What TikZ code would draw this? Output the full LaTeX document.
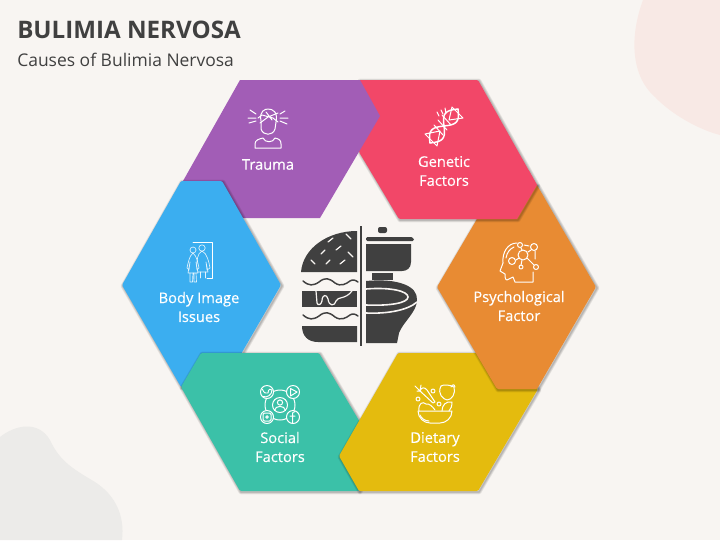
\documentclass[tikz,border=0pt]{standalone}
\usepackage{fontspec}
\setmainfont{Open Sans}
\newfontfamily\labfont[FakeBold=0.35]{Open Sans}
\definecolor{bgc}{HTML}{F8F5F2}
\definecolor{blobA}{HTML}{F8E9E5}
\definecolor{blobB}{HTML}{ECEBE9}
\definecolor{purp}{HTML}{A25DB6}
\definecolor{pinkc}{HTML}{F24768}
\definecolor{orng}{HTML}{E88B33}
\definecolor{yelw}{HTML}{E4BB0E}
\definecolor{teal2}{HTML}{3BC1A8}
\definecolor{blu}{HTML}{3BAEF0}
\definecolor{dark}{HTML}{404040}
\newcommand{\shad}[1]{%
  \foreach \wd in {3.6,2.6,1.6,.8}{\draw[black,opacity=.07,line width=\wd pt,line join=round,shift={(1,1)}] #1 -- cycle;}}
\newcommand{\hexa}[2]{\shad{#2}\fill[#1,rounded corners=1pt] #2 -- cycle;}
\tikzset{
  lab/.style={text=white,font=\fontsize{11pt}{14.2pt}\labfont,align=center,inner sep=0pt},
  ico/.style={draw=white,line width=.75pt,line cap=round,line join=round},
  thin ico/.style={draw=white,opacity=.85,line width=.5pt,line cap=round,line join=round},
  cut/.style={draw=bgc,line width=.9pt,line cap=round,line join=round}
}
\begin{document}
\begin{tikzpicture}[x=.75pt,y=-.75pt]
\useasboundingbox (0,0) rectangle (720,540);
\fill[bgc] (0,0) rectangle (720,540);
% blobs
\fill[blobA] (643,0) .. controls (630,35) and (630,75) .. (655,97) .. controls (672,115) and (700,130) .. (720,135) -- (720,0) -- cycle;
\fill[blobB] (0,437) .. controls (15,425) and (38,420) .. (50,440) .. controls (60,462) and (75,470) .. (95,482) .. controls (115,495) and (125,515) .. (122,540) -- (0,540) -- cycle;
% titles
\node[anchor=west,inner sep=0pt,text=dark,font=\fontsize{18.1pt}{20pt}\selectfont\bfseries] (title) at (17,29.5) {BULIMIA NERVOSA};
\node[anchor=west,inner sep=0pt,text=dark,font=\fontsize{13.1pt}{16pt}\selectfont] (sub) at (17,59.5) {Causes of Bulimia Nervosa};
% segments
\hexa{pinkc}{(359,80) -- (478,80) -- (537,185) -- (517,219) -- (399,219) -- (359,152)}
\fill[purp] (240,80) -- (360,80) -- (380,116) -- (320,218) -- (200,218) -- (183,181) -- cycle;
\hexa{blu}{(181,181) -- (222,181) -- (281,285) -- (222,387) -- (181,387) -- (122,285)}
\hexa{teal2}{(201,353) -- (319,353) -- (380,456) -- (359,491) -- (240,491) -- (181,387)}
\hexa{yelw}{(398,353) -- (517,353) -- (538,389) -- (478,491) -- (359,491) -- (339,456)}
\hexa{orng}{(497,185) -- (537,185) -- (596,287) -- (537,389) -- (497,389) -- (437,287)}
\begin{scope}
\clip (497,185) -- (537,185) -- (596,287) -- (537,389) -- (497,389) -- (437,287) -- cycle;
\shad{(359,80) -- (478,80) -- (537,185) -- (517,219) -- (399,219) -- (359,152)}
\end{scope}
\begin{scope}
\clip (440,170) rectangle (600,240);
\fill[pinkc] (359,80) -- (478,80) -- (537,185) -- (517,219) -- (399,219) -- (359,152) -- cycle;
\end{scope}
% centre: burger
\fill[dark] (301,272) .. controls (303,248) and (328,231) .. (357,231) -- (357,272) -- cycle;
\foreach \a/\b/\c/\d in {311/260/315/264,326/264/330/260,340/264/345/260,348/252/353/257,321/254/325/250,336/250/341/246,328/242/333/238,346/234/351/239}
  {\draw[cut] (\a,\b) -- (\c,\d);}
\draw[dark,line width=1.1pt,line cap=round] (303,281) .. controls (309,286) and (313,286) .. (319,282) .. controls (325,277) and (329,278) .. (335,283) .. controls (341,287) and (346,284) .. (350,281) .. controls (353,279) and (355,280) .. (358,282);
\fill[dark] (302,291) rectangle (357,307);
\draw[cut] (316,291) -- (317,303) .. controls (318,306) and (321,305) .. (322,301) .. controls (322,294) and (327,294) .. (328,299) .. controls (329,307) and (335,306) .. (336,301) .. controls (338,296) and (345,300) .. (352,291);
\draw[dark,line width=1.1pt,line cap=round] (303,315) .. controls (309,320) and (313,320) .. (319,316) .. controls (325,311) and (329,312) .. (335,317) .. controls (341,321) and (346,318) .. (350,315) .. controls (353,313) and (355,314) .. (358,316);
\fill[dark] (302,326) -- (357,326) -- (357,342) -- (318,342) .. controls (308,342) and (302,336) .. (302,326) -- cycle;
\fill[dark] (359.9,226) rectangle (361.6,346);
% centre: toilet
\fill[dark,rounded corners=1.5pt] (378,233) -- (378,227) -- (387,227) -- (387,233) -- cycle;
\fill[dark,rounded corners=1pt] (366,241) -- (366,237) -- (410,237) .. controls (412,237) and (414,239) .. (414,241) -- cycle;
\fill[dark] (366,244) -- (411,244) -- (411,262) .. controls (411,268) and (407,271) .. (402,271) -- (366,271) -- cycle;
\fill[dark] (372,272.5) rectangle (393,280);
\fill[dark] (366,281) .. controls (398,278) and (418,286) .. (417,300) .. controls (417,312) and (403,322) .. (399,333) -- (397,343) -- (366,343) -- cycle;
\draw[cut,line width=1.2pt] (366,289) .. controls (390,287) and (408,291) .. (408,297) .. controls (408,303) and (390,306) .. (366,305);
\draw[cut,line width=1.2pt] (366,313) .. controls (388,314) and (408,310) .. (417,302);
% trauma icon
\draw[ico] (261,121) .. controls (259,111) and (265,109) .. (268,109) .. controls (273,109) and (278,112) .. (276,122) -- (275,129) .. controls (273,136) and (263,136) .. (261,129) -- cycle;
\draw[ico] (258,118) -- (262,115) -- (273,118) -- (278,122) (260,123) -- (268,117) -- (278,113) (266,112) -- (272,120);
\draw[ico] (255,148) -- (255,144) .. controls (255,140) and (259,139) .. (263,138) .. controls (265,143) and (273,143) .. (275,138) .. controls (279,139) and (281,140) .. (281,144) -- (281,148) -- cycle;
\draw[ico] (250,110) -- (256,114) (248,118) -- (256,118) (249,123) -- (256,121) (285,111) -- (280,114) (288,118) -- (280,118) (287,124) -- (280,121);
% dna icon
\draw[ico,line width=1.1pt] plot[smooth,domain=-1:1,samples=25] ({444+14*\x+7*.8*sin(180*\x)},{126-17*\x+7*.6*sin(180*\x)});
\draw[ico,line width=1.1pt] plot[smooth,domain=-1:1,samples=25] ({444+14*\x-7*.8*sin(180*\x)},{126-17*\x-7*.6*sin(180*\x)});
\draw[ico] (425,134) -- (437,146) -- (440,131) -- cycle (452,107) -- (463,118) -- (449,120) -- cycle;
\draw[ico] (438,120) -- (447,130) (434,125) -- (443,135) (442,115) -- (451,125);
\draw[ico] (437,112) -- (439,116) (441,110) -- (443,114) (445,108) -- (446,113);
% psychological icon
\draw[ico] (533,272) -- (533,282) -- (515,282) -- (513,277) -- (507,280) .. controls (505,280) and (505,276) .. (505,274) -- (500,271) -- (503,263) .. controls (502,252) and (508,243) .. (517,243);
\draw[ico] (506,258) .. controls (507,252) and (510,249) .. (514,247);
\draw[ico] (523,255) circle[radius=5];
\draw[ico] (512,261) circle[radius=3.5];
\draw[ico] (520,245) circle[radius=2.5];
\draw[ico] (534,247) circle[radius=3.5];
\draw[ico] (536,267) circle[radius=2.5];
\draw[ico] (521,267) circle[radius=2];
\draw[ico] (516,260) -- (519,258) (521,248) -- (522,250) (528,252) -- (531,250) (527,258) -- (534,265) (522,260) -- (521,265) (524,245) -- (529,246) (535,251) -- (535,259);
% body image icon
\draw[ico,line width=.6pt] (193,242) -- (212,242) -- (212,278) -- (207,278);
\draw[thin ico] (193,250) circle[radius=3];
\draw[thin ico] (202,248) circle[radius=3.2];
\draw[thin ico] (193,253) .. controls (189,256) and (188,264) .. (187,268) -- (189,270) -- (190,262) -- (188,273) -- (198,273) -- (196,262) -- (197,270) -- (199,268) .. controls (198,264) and (197,256) .. (193,253);
\draw[thin ico] (190,273) -- (190,282) -- (192.5,282) -- (193,273) (194,273) -- (194,282) -- (196.5,282) -- (196,273);
\draw[thin ico] (202,251) .. controls (197,253) and (197,262) .. (197,264) (202,251) .. controls (207,253) and (209,262) .. (210,268) -- (207,270) -- (206,262) -- (208,272) -- (198,272);
\draw[thin ico] (200,272) -- (200,278) (205,272) -- (205,278);
% social icon
\draw[ico] (280,405) circle[radius=15];
\foreach \cx/\cy in {267/392,293/392,267/417,293/417}{
  \filldraw[ico,fill=teal2] (\cx,\cy) circle[radius=6.5];}
\draw[ico] (280,405) circle[radius=7.5];
\draw[ico] (280,402.5) circle[radius=2.6];
\draw[ico] (274.5,410.5) .. controls (275,405) and (285,405) .. (285.5,410.5);
\draw[ico,line width=.7pt] (262.5,389.5) .. controls (264,393) and (266,394) .. (268,393) .. controls (268,389) and (271,388) .. (272,390) .. controls (272,395) and (267,398) .. (263,396.5);
\draw[ico] (290.5,388.5) -- (297,392) -- (290.5,396) -- cycle;
\draw[ico,rounded corners=1pt] (263,413) rectangle (271,421);
\draw[ico] (267,417) circle[radius=1.3];
\draw[ico] (295,411.5) .. controls (292.5,411.5) and (292.5,413) .. (292.5,415) -- (292.5,423) (290,416) -- (295,416);
% dietary icon
\draw[ico] (418,411) -- (452,411) .. controls (452,418) and (446,423) .. (440,423) -- (430,423) .. controls (424,423) and (418,418) .. (418,411) -- cycle;
\draw[ico] (420,415) .. controls (421,418) and (425,421) .. (429,421);
\draw[ico] (419,411) .. controls (418,403) and (423,401) .. (426,404) .. controls (429,403) and (433,407) .. (435,410);
\draw[ico] (442,411) .. controls (442,405) and (446,401) .. (452,402) .. controls (452,406) and (451,409) .. (449,411);
\draw[ico] (420,391) .. controls (421,387) and (425,387) .. (427,390) -- (435,402) -- (433,403) -- cycle;
\draw[ico] (415,386) -- (420,391) (417,391) -- (420,391) (421,385) -- (420,391);
\draw[ico] (441,386) .. controls (444,384) and (450,385) .. (454,387) .. controls (456,393) and (452,400) .. (447,400) .. controls (443,399) and (437,394) .. (441,386) -- cycle;
\draw[ico] (451,387) .. controls (453,384) and (454,384) .. (455,387);
\draw[ico] (433,391) circle[radius=2];
\draw[ico] (418,399) circle[radius=2];
\draw[ico] (439,404) circle[radius=2];
% labels
\node[lab] (ltrauma) at (268,164.5) {Trauma};
\node[lab] (lgen) at (444,171) {Genetic\\Factors};
\node[lab] (lpsy) at (519,306) {Psychological\\Factor};
\node[lab] (lbody) at (199,307) {Body Image\\Issues};
\node[lab] (lsoc) at (280,447) {Social\\Factors};
\node[lab] (ldiet) at (435,447) {Dietary\\Factors};
\end{tikzpicture}
\end{document}
